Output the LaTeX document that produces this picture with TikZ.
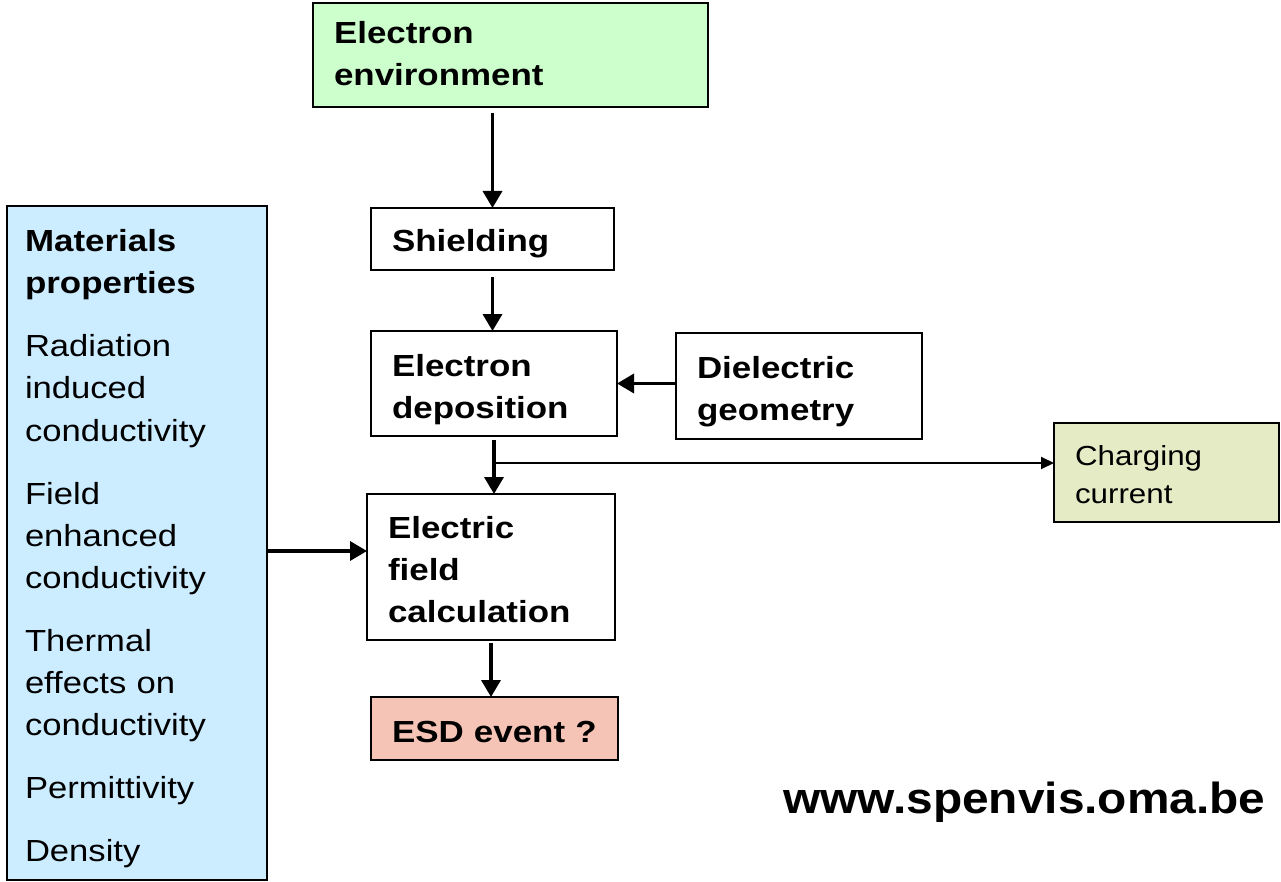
\documentclass[tikz,border=0pt]{standalone}
\usepackage{fontspec}
\setmainfont[FakeStretch=1.135, BoldFeatures={FakeStretch=1.145}]{Liberation Sans}
\newfontfamily\urlfont[FakeStretch=1.1]{Liberation Sans}
\usetikzlibrary{arrows.meta}
\definecolor{envgreen}{HTML}{CCFFCC}
\definecolor{matblue}{HTML}{CCECFF}
\definecolor{chargeolive}{HTML}{E5EBC5}
\definecolor{esdpink}{HTML}{F6C4B6}
\newcommand\tst[1]{\rule{0pt}{#1}}
\newcommand\bst[1]{\rule[-#1]{0pt}{#1}}
\tikzset{
  box/.style={draw=black, line width=2.5pt, anchor=north west, align=left,
    inner xsep=21pt, inner ysep=0pt, outer sep=0pt,
    font=\fontsize{30.5}{42}\selectfont},
  arr/.style={line width=3.5pt, -{Triangle[length=17pt,width=19pt]}},
  thinarr/.style={line width=2pt, -{Triangle[length=13pt,width=12pt]}}
}
\begin{document}
\begin{tikzpicture}[x=1pt,y=-1pt]
\useasboundingbox (0,0) rectangle (1281,882);
\fill[white] (0,0) rectangle (1281,882);

\node[box, fill=envgreen, minimum width=395pt, minimum height=104pt, text width=353pt] (env) at (313,3)
  {\bfseries\tst{28pt}Electron\\environment\bst{8pt}};
\node[box, minimum width=243pt, minimum height=62pt, text width=201pt] (shield) at (371,208)
  {\bfseries\tst{34pt}Shielding\bst{8pt}};
\node[box, minimum width=246pt, minimum height=105pt, text width=204pt] (dep) at (371,331)
  {\bfseries\tst{35pt}Electron\\deposition\bst{8pt}};
\node[box, minimum width=246pt, minimum height=106pt, text width=204pt] (diel) at (676,333)
  {\bfseries\tst{34pt}Dielectric\\geometry\bst{8pt}};
\node[box, fill=chargeolive, minimum width=225pt, minimum height=99pt, text width=183pt,
  font=\fontsize{27.6}{38}\selectfont] (charge) at (1054,423)
  {\tst{31pt}Charging\\current\bst{8pt}};
\node[box, minimum width=248pt, minimum height=146pt, text width=206pt] (field) at (367,494)
  {\bfseries\tst{34pt}Electric\\field\\calculation\bst{8pt}};
\node[box, fill=esdpink, minimum width=247pt, minimum height=63pt, text width=205pt] (esd) at (371,697)
  {\bfseries\tst{35pt}ESD event ?\bst{8pt}};
\node[box, fill=matblue, minimum width=260pt, minimum height=674pt, text width=224pt,
  inner xsep=18pt] (mat) at (7,206)
  {{\bfseries\tst{35pt}Materials\\properties}\\[21pt]
   Radiation\\induced\\conductivity\\[21pt]
   Field\\enhanced\\conductivity\\[21pt]
   Thermal\\effects on\\conductivity\\[21pt]
   Permittivity\\[21pt]
   Density\bst{8pt}};

\node[anchor=base west, inner sep=0pt, font=\urlfont\fontsize{43.5}{50}\selectfont\bfseries] (url) at (783,813)
  {www.spenvis.oma.be};

\draw[arr, shorten <=6pt] (env.south -| shield.north) -- (shield.north);
\draw[arr, shorten <=7pt] (shield.south) -- (shield.south |- dep.north);
\draw[arr] (dep.east -| diel.west) -- (dep.east);
\draw[arr, shorten <=4pt] (dep.south) -- (dep.south |- field.north);
\path (dep.south) ++(0,27) coordinate (br);
\draw[thinarr] (br) -- (br -| charge.west);
\draw[arr] ([yshift=-8pt]mat.east) -- ([yshift=-8pt]mat.east -| field.west);
\draw[arr, shorten <=3pt] (field.south) -- (field.south |- esd.north);
\end{tikzpicture}
\end{document}
